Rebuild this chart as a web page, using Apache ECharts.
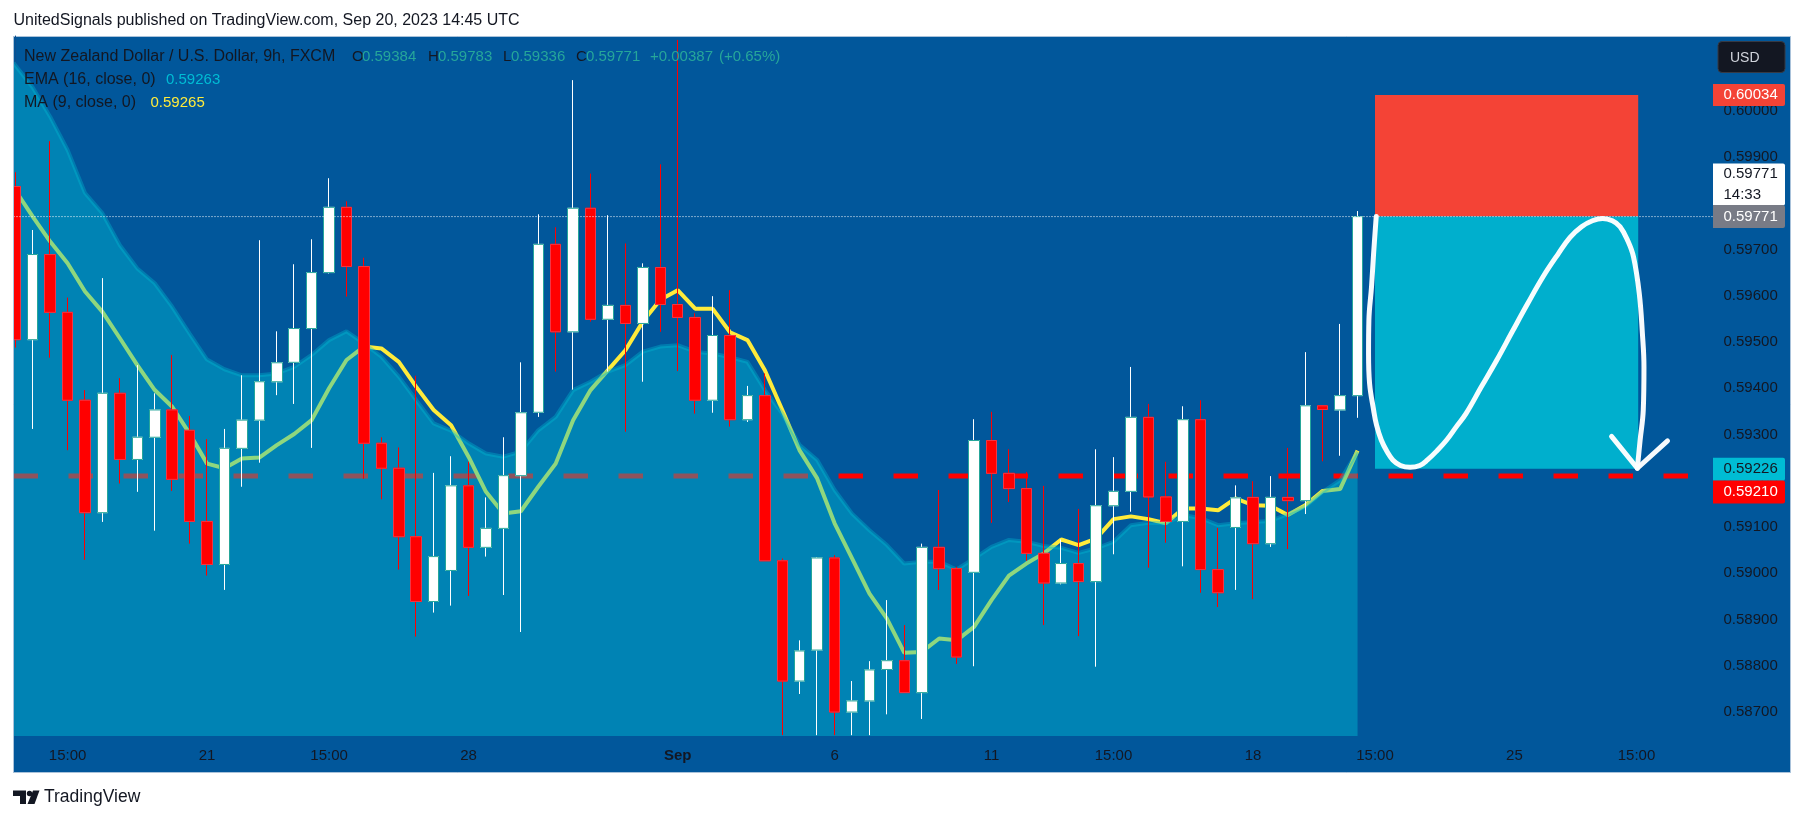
<!DOCTYPE html>
<html>
<head>
<meta charset="utf-8">
<style>html,body{margin:0;padding:0;background:#fff}#c{width:1804px;height:821px}</style>
<script src="https://cdn.jsdelivr.net/npm/echarts@6/dist/echarts.min.js"></script>
</head>
<body>
<div id="c"></div>
<script>
const opens = [.59836,.59505,.59689,.59564,.59374,.59131,.59389,.59246,.59294,.59353,.59309,.59112,.59019,.59270,.59331,.59414,.59456,.59529,.59650,.59791,.59663,.59281,.59227,.59079,.58939,.59006,.59189,.59056,.59097,.59211,.59348,.59711,.59522,.59789,.59549,.59579,.59540,.59661,.59581,.59553,.59374,.59514,.59332,.59384,.59027,.58767,.58834,.59033,.58700,.58724,.58792,.58811,.58742,.59056,.59010,.59002,.59287,.59216,.59183,.59043,.58979,.59021,.58982,.59146,.59177,.59337,.59165,.59112,.59332,.59008,.59099,.59164,.59064,.59164,.59157,.59362,.59353,.59384];
const closes = [.59505,.59689,.59564,.59374,.59131,.59389,.59246,.59294,.59353,.59203,.59112,.59019,.59270,.59331,.59414,.59455,.59529,.59650,.59791,.59663,.59281,.59227,.59079,.58939,.59036,.59189,.59056,.59097,.59211,.59347,.59711,.59522,.59789,.59549,.59579,.59540,.59661,.59581,.59553,.59374,.59514,.59332,.59384,.59027,.58767,.58832,.59033,.58700,.58724,.58791,.58811,.58742,.59056,.59010,.58819,.59287,.59216,.59183,.59043,.58979,.59021,.58982,.59146,.59177,.59337,.59165,.59112,.59332,.59008,.58958,.59163,.59064,.59164,.59157,.59362,.59354,.59384,.59771];
const lows = [.59488,.59312,.59466,.59266,.59029,.59111,.59194,.59176,.59092,.59178,.59064,.58995,.58964,.59187,.59239,.59385,.59366,.59271,.59648,.59598,.59204,.59160,.59008,.58863,.58915,.58930,.58951,.59036,.58953,.58873,.59338,.59436,.59397,.59544,.59436,.59306,.59414,.59522,.59437,.59345,.59347,.59317,.59327,.59027,.58650,.58739,.58650,.58650,.58650,.58650,.58695,.58742,.58685,.58964,.58804,.58799,.59109,.59154,.59027,.58888,.58976,.58864,.58798,.59041,.59133,.59012,.59066,.59015,.58958,.58927,.58964,.58944,.59057,.59052,.59128,.59242,.59254,.59336];
const highs = [.59867,.59742,.59934,.59596,.59396,.59638,.59422,.59450,.59389,.59472,.59340,.59290,.59312,.59428,.59720,.59523,.59668,.59722,.59854,.59804,.59682,.59294,.59272,.59427,.59217,.59253,.59241,.59164,.59294,.59456,.59776,.59748,.60066,.59864,.59774,.59713,.59670,.59884,.60153,.59562,.59599,.59612,.59405,.59432,.59032,.58855,.59035,.59039,.58767,.58810,.58942,.58888,.59064,.59180,.59014,.59333,.59349,.59268,.59219,.59189,.59073,.59139,.59268,.59251,.59446,.59366,.59241,.59361,.59374,.59098,.59190,.59199,.59210,.59271,.59478,.59363,.59539,.59783];
const emaValues = [.60098,.60050,.59987,.59915,.59822,.59778,.59709,.59659,.59627,.59576,.59518,.59462,.59441,.59428,.59428,.59432,.59446,.59472,.59504,.59523,.59497,.59468,.59425,.59374,.59324,.59308,.59281,.59259,.59252,.59263,.59309,.59338,.59396,.59414,.59436,.59450,.59479,.59490,.59493,.59479,.59475,.59467,.59457,.59396,.59345,.59277,.59245,.59180,.59129,.59093,.59061,.59021,.59025,.59025,.59008,.59032,.59057,.59072,.59068,.59059,.59055,.59044,.59054,.59068,.59104,.59109,.59108,.59126,.59119,.59104,.59108,.59111,.59113,.59128,.59144,.59176,.59201,.59263];
const emaAtLeftEdge = .60104;
const maValues = [.59828,.59771,.59717,.59670,.59609,.59565,.59508,.59450,.59396,.59360,.59302,.59237,.59227,.59248,.59250,.59277,.59301,.59331,.59400,.59461,.59490,.59486,.59457,.59403,.59353,.59320,.59252,.59176,.59129,.59134,.59187,.59237,.59331,.59396,.59439,.59482,.59544,.59591,.59612,.59572,.59572,.59521,.59504,.59439,.59353,.59265,.59205,.59108,.59032,.58956,.58902,.58828,.58830,.58859,.58855,.58884,.58942,.58995,.59021,.59043,.59073,.59061,.59075,.59117,.59123,.59117,.59108,.59140,.59140,.59136,.59162,.59147,.59146,.59126,.59147,.59178,.59182,.59265];

const priceTicks = [.600,.599,.598,.597,.596,.595,.594,.593,.592,.591,.590,.589,.588,.587];
const timeTickIndex = [3,11,18,26,38,47,56,63,71,78,86,93];
const timeTickLabels = ['15:00','21','15:00','28','Sep','6','11','15:00','18','15:00','25','15:00'];

const stopPrice = .60034, entryPrice = .59771, targetPrice = .59226, linePrice = .59210;
const zoneStart = 78, zoneEnd = 93.1;
const drawX = [78.07,77.92,77.80,77.65,77.63,77.69,77.92,78.09,78.36,78.69,79.02,79.46,80.01,80.57,81.01,81.56,82.11,82.67,83.22,84.10,84.99,85.87,86.76,87.64,88.52,89.19,89.85,90.47,91.06,91.62,92.06,92.50,92.83,93.16,93.34,93.43,93.39,93.21,93.05];
const drawY = [.59771,.59691,.59619,.59547,.59475,.59410,.59353,.59320,.59288,.59263,.59245,.59233,.59229,.59233,.59245,.59265,.59288,.59317,.59345,.59403,.59461,.59522,.59583,.59641,.59691,.59726,.59749,.59762,.59767,.59762,.59749,.59719,.59684,.59605,.59518,.59446,.59353,.59288,.59227];
const arrowX = [91.57,93.05,94.78];
const arrowY = [.59296,.59227,.59286];

const tagValues = [stopPrice, entryPrice, entryPrice, targetPrice, linePrice];
const tagTexts = [['0.60034'],['0.59771','14:33'],['0.59771'],['0.59226'],['0.59210']];

// layout
const gridLeft = 13.5, gridRightPx = 1713, gridTop = 36, gridBottomPx = 736;
const xMin = -0.103, xMax = 97.39;
const yMin = 0.586482, yMax = 0.601614;
const tagStyles = [
  {bg:'#f44336',fg:'#ffffff',h:22,dy:0},
  {bg:'#ffffff',fg:'#131722',h:42,dy:-32},
  {bg:'#787b86',fg:'#ffffff',h:23,dy:0},
  {bg:'#00bcd4',fg:'#131722',h:23,dy:0.5},
  {bg:'#ff0000',fg:'#ffffff',h:23,dy:16}
];
const fontName = 'Liberation Sans';
const font = '"Liberation Sans", sans-serif';
const idx = opens.map((_, i) => i);
const dark = '#131722', teal = '#26a69a';

function txt(x, y, text, fill, size) {
  return {type:'text', z:30, silent:true, style:{x, y, text, fill, font:(size||15)+'px '+font, textVerticalAlign:'middle'}};
}

const chart = echarts.init(document.getElementById('c'), null, {renderer:'canvas'});
chart.setOption({
  animation:false,
  backgroundColor:'#ffffff',
  grid:{left:gridLeft, top:gridTop, width:gridRightPx-gridLeft, height:gridBottomPx-gridTop, containLabel:false},
  xAxis:{type:'value', min:xMin, max:xMax, splitLine:{show:false}, axisTick:{show:false}, axisLine:{show:false},
    axisLabel:{customValues:timeTickIndex, margin:12, color:dark, fontFamily:fontName, fontSize:15,
      showMinLabel:true, showMaxLabel:true,
      formatter:v=>{const s=timeTickLabels[timeTickIndex.indexOf(v)]; return s==='Sep'?'{b|Sep}':s;},
      rich:{b:{fontWeight:'bold',fontFamily:fontName,fontSize:15,color:dark}}}},
  yAxis:{type:'value', position:'right', min:yMin, max:yMax, scale:true, splitLine:{show:false}, axisTick:{show:false},
    axisLine:{show:true, lineStyle:{color:'#0d4f8f', width:1}},
    axisLabel:{customValues:priceTicks, margin:10.5, color:dark, align:'left', fontFamily:fontName, fontSize:15, formatter:v=>v.toFixed(5)}},
  graphic:{elements:[
    {type:'rect', z:-1, silent:true, shape:{x:13.5,y:36.5,width:1777,height:736}, style:{fill:'#01579b', stroke:'#a9c2da', lineWidth:1}},
    {type:'rect', z:20, silent:true, shape:{x:0,y:36,width:13,height:738}, style:{fill:'#ffffff'}},
    {type:'line', z:20, silent:true, shape:{x1:13.5,y1:36,x2:13.5,y2:773}, style:{stroke:'#a9c2da', lineWidth:1}},
    txt(13.5,21,'UnitedSignals published on TradingView.com, Sep 20, 2023 14:45 UTC',dark,16),
    txt(24,56.5,'New Zealand Dollar / U.S. Dollar, 9h, FXCM',dark,16),
    txt(352,56.5,'O',dark), txt(362,56.5,'0.59384',teal),
    txt(428,56.5,'H',dark), txt(438,56.5,'0.59783',teal),
    txt(503,56.5,'L',dark), txt(511,56.5,'0.59336',teal),
    txt(576,56.5,'C',dark), txt(586,56.5,'0.59771',teal),
    txt(650,56.5,'+0.00387',teal), txt(719,56.5,'(+0.65%)',teal),
    txt(24,80,'EMA (16, close, 0)',dark,16), txt(166,80,'0.59263','#00bcd4'),
    txt(24,103,'MA (9, close, 0)',dark,16), txt(150.5,103,'0.59265','#ffeb3b'),
    {type:'rect', z:30, silent:true, shape:{x:1718,y:41.5,width:67,height:31,r:4}, style:{fill:'#131722', stroke:'#363a45', lineWidth:1}},
    txt(1730,58.5,'USD','#d1d4dc',14),
    {type:'polygon', z:30, silent:true, shape:{points:[[13,790.5],[26,790.5],[26,804],[20,804],[20,796],[13,796]]}, style:{fill:dark}},
    {type:'circle', z:30, silent:true, shape:{cx:29.5,cy:793.5,r:2.7}, style:{fill:dark}},
    {type:'polygon', z:30, silent:true, shape:{points:[[33,790.5],[39.5,790.5],[34.5,804],[27.5,804]]}, style:{fill:dark}},
    txt(44,797.5,'TradingView',dark,17.5)
  ]},
  series:[
    {type:'line', z:1, silent:true, symbol:'none', data:[[xMin,linePrice],[96.65,linePrice]],
      lineStyle:{color:'#ff0000',width:5,type:[24.5,30.5],cap:'butt'}},
    {type:'custom', z:1, silent:true, renderItem:(p,api)=>{
        const a=api.coord([api.value(0),api.value(1)]), b=api.coord([api.value(2),api.value(3)]);
        return {type:'rect', shape:{x:a[0],y:a[1],width:b[0]-a[0],height:b[1]-a[1]}, style:{fill:api.value(4)===0?'#f44336':'#00afcd'}};
      }, data:[[zoneStart,stopPrice,zoneEnd,entryPrice,0],[zoneStart,entryPrice,zoneEnd,targetPrice,1]]},
    {type:'line', z:2, silent:true, symbol:'none', data:idx.map(i=>[i,maValues[i]]), lineStyle:{color:'#ffeb3b',width:4}},
    {type:'line', z:3, silent:true, symbol:'none', data:[[xMin,emaAtLeftEdge]].concat(idx.map(i=>[i,emaValues[i]])),
      lineStyle:{color:'rgba(0,188,212,0.36)',width:4}, areaStyle:{origin:'start',color:'rgba(0,188,212,0.44)',opacity:1}},
    {type:'candlestick', z:4, silent:true, barWidth:11, data:idx.map(i=>[i,opens[i],closes[i],lows[i],highs[i]]),
      itemStyle:{color:'#ffffff',color0:'#ff0000',borderColor:'#ffffff',borderColor0:'#ff0000',borderWidth:1}},
    {type:'candlestick', z:5, silent:true, barWidth:11, data:idx.map(i=>[i,opens[i],closes[i],Math.min(opens[i],closes[i]),Math.max(opens[i],closes[i])]),
      itemStyle:{color:'#ffffff',color0:'#ff0000',borderColor:'#26a69a',borderColor0:'#f23645',borderWidth:1}},
    {type:'line', z:8, silent:true, symbol:'none', data:[[xMin,entryPrice],[xMax,entryPrice]], lineStyle:{color:'#ffffff',width:1,type:[1,2]}},
    {type:'line', z:9, silent:true, symbol:'none', smooth:0.4, data:drawX.map((x,i)=>[x,drawY[i]]), lineStyle:{color:'#ffffff',width:5,cap:'round',join:'round',opacity:0.97}},
    {type:'line', z:9, silent:true, symbol:'none', data:arrowX.map((x,i)=>[x,arrowY[i]]), lineStyle:{color:'#ffffff',width:5,cap:'round',join:'round',opacity:0.97}},
    {type:'custom', z:12, silent:true, clip:false, renderItem:(p,api)=>{
        const k=p.dataIndex, st=tagStyles[k], c=api.coord([xMax,api.value(0)]);
        const cy=c[1]+st.dy, lines=tagTexts[k];
        const kids=[{type:'rect', shape:{x:c[0],y:cy-st.h/2,width:72,height:st.h,r:[0,2,2,0]}, style:{fill:st.bg}}];
        lines.forEach((t,j)=>kids.push({type:'text', style:{x:c[0]+10.5,y:cy-st.h/2+(j+0.5)*(st.h/lines.length),text:t,fill:st.fg,font:'15px '+font,verticalAlign:'middle',align:'left'}}));
        return {type:'group',children:kids};
      }, data:tagValues.map(v=>[v])}
  ]
});
</script>
</body>
</html>
